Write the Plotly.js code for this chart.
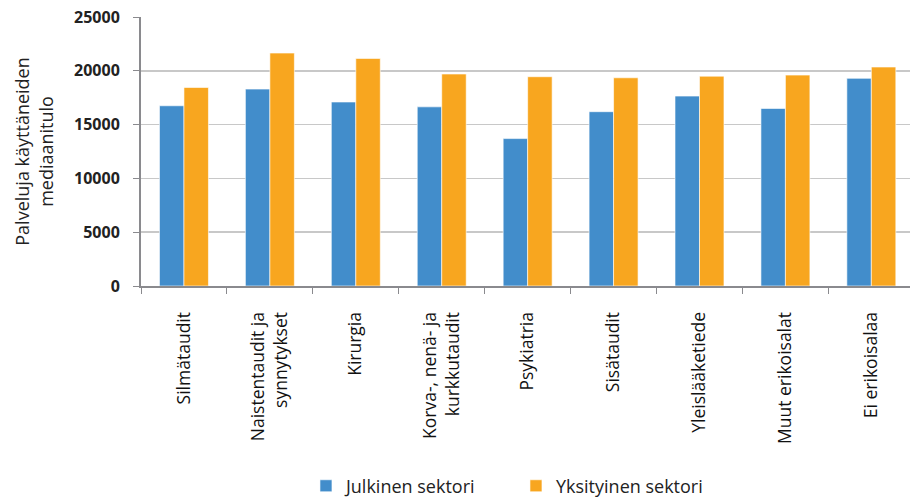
<!DOCTYPE html>
<html>
<head>
<meta charset="utf-8">
<script src="https://cdn.plot.ly/plotly-3.0.1.min.js"></script>
<style>html,body{margin:0;padding:0;background:#fff;}#chart{width:910px;height:497px;}</style>
</head>
<body>
<div id="chart"></div>
<script>
const categories = ["Silmätaudit", "Naistentaudit ja<br>synnytykset", "Kirurgia", "Korva-, nenä- ja<br>kurkkutaudit", "Psykiatria", "Sisätaudit", "Yleislääketiede", "Muut erikoisalat", "Ei erikoisalaa"];
const julkinen = [16750, 18300, 17100, 16650, 13700, 16200, 17650, 16500, 19300];
const yksityinen = [18450, 21650, 21150, 19700, 19450, 19350, 19500, 19600, 20350];
const seriesNames = ["Julkinen sektori", "Yksityinen sektori"];
const yTicks = [0, 5000, 10000, 15000, 20000, 25000];

const font = "'Open Sans', 'Noto Sans', sans-serif";
const data = [
  {type: "bar", name: seriesNames[0], x: categories, y: julkinen,
   marker: {color: "#428dcb", line: {color: "rgba(255,255,255,0.6)", width: 1}}},
  {type: "bar", name: seriesNames[1], x: categories, y: yksityinen,
   marker: {color: "#f8a61f", line: {color: "rgba(255,255,255,0.6)", width: 1}}}
];
const layout = {
  width: 910, height: 497,
  margin: {l: 141, r: 0, t: 17, b: 211},
  paper_bgcolor: "#fff", plot_bgcolor: "#fff",
  barmode: "group", bargap: 0.43, bargroupgap: 0,
  font: {family: font, color: "#222"},
  xaxis: {
    type: "category", range: [-0.5, 8.45], automargin: false,
    tickangle: -90, tickfont: {size: 17.5, color: "#111"},
    showline: true, linecolor: "#8a8a8e", linewidth: 2,
    ticks: "outside", tickson: "boundaries", ticklen: 6, tickcolor: "#8a8a8e", tickwidth: 1,
    ticklabelstandoff: 17, showgrid: false, fixedrange: true
  },
  yaxis: {
    range: [0, 25000], tickvals: yTicks, ticktext: yTicks.map(String), automargin: false,
    tickfont: {size: 16, color: "#222", weight: "bold"},
    showline: true, linecolor: "#8a8a8e", linewidth: 2,
    ticks: "outside", ticklen: 6, tickcolor: "#8a8a8e", tickwidth: 1,
    ticklabelstandoff: 10,
    showgrid: true, gridcolor: "#c8c8c8", gridwidth: 1.5, zeroline: false,
    title: {text: "Palveluja käyttäneiden<br>mediaanitulo", font: {size: 18, color: "#222"}, standoff: 16}
  },
  showlegend: true,
  legend: {orientation: "h", xref: "container", x: 0.567, xanchor: "center",
           yref: "container", y: 0.022, yanchor: "middle",
           font: {size: 18, color: "#222"}, itemwidth: 30, entrywidth: 165, traceorder: "normal"}
};
Plotly.newPlot("chart", data, layout, {displayModeBar: false, staticPlot: true});
</script>
</body>
</html>
